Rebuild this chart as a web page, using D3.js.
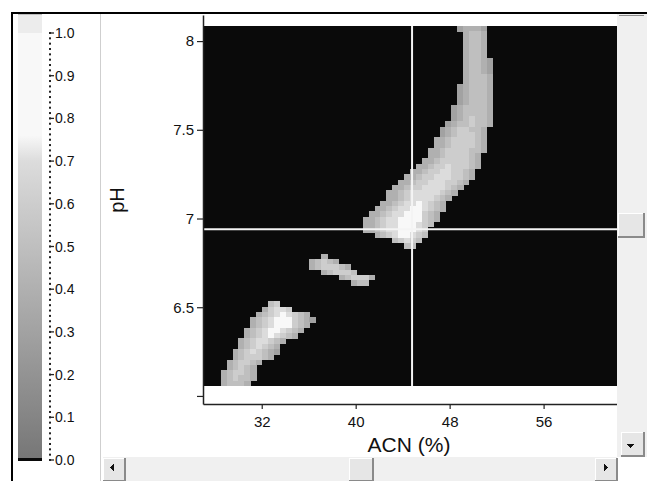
<!DOCTYPE html>
<html>
<head>
<meta charset="utf-8">
<script src="https://cdn.jsdelivr.net/npm/d3@7"></script>
<style>
  body { margin: 0; background: #fff; }
  svg { display: block; font-family: "Liberation Sans", Arial, sans-serif; }
</style>
</head>
<body>
<svg id="chart" width="647" height="481"></svg>
<script>
// axis ticks
var acnTicks = [32, 40, 48, 56];
var phTicks = [6, 6.5, 7, 7.5, 8];
var phTickLabels = ["", "6.5", "7", "7.5", "8"];
var legendTicks = [0.0, 0.1, 0.2, 0.3, 0.4, 0.5, 0.6, 0.7, 0.8, 0.9, 1.0];

// crosshair (selected point)
var crossAcn = 44.8;
var crossPh = 6.94;

// heat map cells, rows counted from the top (highest pH) down:
// [row, first column, values in tenths]  -- cells not listed are 0
var bandUpper = [
  [0, 43, "34443"],
  [1, 44, "4554"],
  [2, 44, "4554"],
  [3, 44, "4554"],
  [4, 44, "4554"],
  [5, 44, "4554"],
  [6, 44, "45543"],
  [7, 44, "45543"],
  [8, 44, "45543"],
  [9, 44, "45554"],
  [10, 44, "45554"],
  [11, 43, "345554"],
  [12, 43, "345554"],
  [13, 43, "345554"],
  [14, 43, "345554"],
  [15, 42, "3455554"],
  [16, 42, "3455554"],
  [17, 42, "3456554"],
  [18, 41, "34556554"],
  [19, 40, "34566554"],
  [20, 40, "34566654"],
  [21, 39, "445666654"],
  [22, 39, "445666654"],
  [23, 38, "4456666554"],
  [24, 38, "445666654"],
  [25, 37, "4456666654"],
  [26, 36, "44566766654"],
  [27, 35, "44566776654"],
  [28, 34, "445667776654"],
  [29, 33, "445667776654"],
  [30, 32, "445667777654"],
  [31, 31, "445677777654"],
  [32, 31, "44567777654"],
  [33, 30, "44567787654"],
  [34, 29, "445677887654"],
  [35, 28, "445677888654"],
  [36, 27, "4456778888654"],
  [37, 27, "445677888765"],
  [38, 27, "44567788876"],
  [39, 29, "456788765"],
  [40, 32, "56765"],
  [41, 34, "55"]
];
var bandMiddle = [
  [43, 20, "4"],
  [44, 18, "45654"],
  [45, 18, "4566654"],
  [46, 20, "456665"],
  [47, 23, "456664"],
  [48, 25, "455"]
];
var bandLower = [
  [52, 11, "56"],
  [53, 10, "46776"],
  [54, 9, "456787654"],
  [55, 8, "45678886543"],
  [56, 8, "4567888654"],
  [57, 7, "4567887654"],
  [58, 7, "456787654"],
  [59, 6, "45677654"],
  [60, 6, "4567654"],
  [61, 5, "45676543"],
  [62, 5, "4566654"],
  [63, 4, "456654"],
  [64, 4, "45654"],
  [65, 3, "456654"],
  [66, 3, "456554"],
  [67, 3, "45554"]
];

var nCols = 70, nRows = 68;

var svg = d3.select("#chart");

var x = d3.scaleLinear().domain([27, 62.25]).range([203, 617]);
var y = d3.scaleLinear().domain([6.056, 8.085]).range([386, 26]);

var shade = d3.scaleLinear()
  .domain([0, 0.7, 0.76, 1])
  .range(["#767676", "#dcdcdc", "#f8f8f8", "#f8f8f8"])
  .clamp(true);
function cellColor(v) { return v === 0 ? "#0a0a0a" : shade(v); }

// ---- frame and panels
svg.append("rect").attr("x", 0).attr("y", 0).attr("width", 647).attr("height", 481).attr("fill", "#fff");
svg.append("line").attr("x1", 100.5).attr("x2", 100.5).attr("y1", 14).attr("y2", 481)
  .attr("stroke", "#cfcfcf");

// ---- heat map
var colW = (x.domain()[1] - x.domain()[0]) / nCols;
var rowH = (y.domain()[1] - y.domain()[0]) / nRows;

var cells = [];
[bandUpper, bandMiddle, bandLower].forEach(function(band) {
  band.forEach(function(row) {
    row[2].split("").forEach(function(ch, i) {
      cells.push({ r: row[0], c: row[1] + i, v: +ch / 10 });
    });
  });
});

var heat = svg.append("g").attr("shape-rendering", "crispEdges");
heat.append("rect")
  .attr("x", x(x.domain()[0])).attr("y", y(y.domain()[1]))
  .attr("width", x(x.domain()[1]) - x(x.domain()[0]))
  .attr("height", y(y.domain()[0]) - y(y.domain()[1]))
  .attr("fill", cellColor(0));

heat.selectAll("rect.cell")
  .data(cells)
  .enter().append("rect")
    .attr("class", "cell")
    .attr("x", function(d) { return x(x.domain()[0] + d.c * colW); })
    .attr("y", function(d) { return y(y.domain()[1] - d.r * rowH); })
    .attr("width", function(d) { return x(x.domain()[0] + (d.c + 1) * colW) - x(x.domain()[0] + d.c * colW) + 0.3; })
    .attr("height", function(d) { return y(y.domain()[1] - (d.r + 1) * rowH) - y(y.domain()[1] - d.r * rowH) + 0.3; })
    .attr("fill", function(d) { return cellColor(d.v); });

// crosshair
svg.append("line")
  .attr("x1", x(crossAcn)).attr("x2", x(crossAcn))
  .attr("y1", y.range()[1]).attr("y2", y.range()[0])
  .attr("stroke", "#f4f4f4").attr("stroke-width", 2);
svg.append("line")
  .attr("x1", x.range()[0]).attr("x2", x.range()[1])
  .attr("y1", y(crossPh)).attr("y2", y(crossPh))
  .attr("stroke", "#f4f4f4").attr("stroke-width", 2);

// ---- axes
var yAxisScale = d3.scaleLinear().domain([y.invert(404), y.invert(15)]).range([404, 15]);
var gy = svg.append("g")
  .attr("transform", "translate(203,0)")
  .call(d3.axisLeft(yAxisScale)
    .tickValues(phTicks)
    .tickFormat(function(d, i) { return phTickLabels[i]; })
    .tickSize(6).tickSizeOuter(0).tickPadding(3));

var gx = svg.append("g")
  .attr("transform", "translate(0,404)")
  .call(d3.axisBottom(x)
    .tickValues(acnTicks)
    .tickFormat(d3.format("d"))
    .tickSize(5).tickSizeOuter(0).tickPadding(7));

[gx, gy].forEach(function(g) {
  g.select(".domain").attr("stroke", "#222").attr("stroke-width", 1.5);
  g.selectAll(".tick line").attr("stroke", "#222").attr("stroke-width", 1.2);
  g.selectAll(".tick text").attr("font-size", 15).attr("fill", "#111")
    .attr("font-family", "Liberation Sans, Arial, sans-serif");
});

svg.append("text")
  .attr("x", 409).attr("y", 452)
  .attr("text-anchor", "middle")
  .attr("font-size", 21).attr("fill", "#111")
  .text("ACN (%)");

svg.append("text")
  .attr("transform", "translate(124,200) rotate(-90)")
  .attr("text-anchor", "middle")
  .attr("font-size", 20).attr("fill", "#111")
  .text("pH");

// ---- colour legend
var ly = d3.scaleLinear().domain([0, 1]).range([460, 33]);
var grad = svg.append("defs").append("linearGradient")
  .attr("id", "legendGrad")
  .attr("gradientUnits", "userSpaceOnUse")
  .attr("x1", 0).attr("x2", 0).attr("y1", ly(0)).attr("y2", ly(1));
shade.domain().concat(legendTicks).sort(d3.ascending).forEach(function(v) {
  grad.append("stop").attr("offset", v).attr("stop-color", shade(v));
});

svg.append("rect").attr("x", 18).attr("y", 15).attr("width", 24).attr("height", ly(1) - 15)
  .attr("fill", "#ececec");
svg.append("line").attr("x1", 18).attr("x2", 42).attr("y1", 14.5).attr("y2", 14.5)
  .attr("stroke", "#bdbdbd");
svg.append("rect").attr("x", 18).attr("y", ly(1)).attr("width", 24).attr("height", ly(0) - ly(1))
  .attr("fill", "url(#legendGrad)");
svg.append("rect").attr("x", 18).attr("y", ly(0) - 2).attr("width", 24).attr("height", 3)
  .attr("fill", cellColor(0));

var minor = d3.range(0, 1.0001, 0.0125);
svg.append("g").selectAll("rect")
  .data(minor)
  .enter().append("rect")
    .attr("x", 49).attr("y", function(d) { return ly(d) - 1; })
    .attr("width", 2).attr("height", 2)
    .attr("fill", "#222");

var lt = svg.append("g").selectAll("g")
  .data(legendTicks)
  .enter().append("g")
    .attr("transform", function(d) { return "translate(0," + ly(d) + ")"; });
lt.append("line").attr("x1", 49).attr("x2", 54).attr("stroke", "#222").attr("stroke-width", 1.3);
lt.append("text")
  .attr("x", 55).attr("dy", "0.36em")
  .attr("font-size", 14).attr("fill", "#111")
  .text(function(d) { return d3.format(".1f")(d); });

// ---- scroll bars
var sb = svg.append("g").attr("shape-rendering", "crispEdges");
// vertical
sb.append("rect").attr("x", 617).attr("y", 14).attr("width", 30).attr("height", 443).attr("fill", "#f0f0f0");
sb.append("line").attr("x1", 619).attr("x2", 644).attr("y1", 15.5).attr("y2", 15.5).attr("stroke", "#8a8a8a").attr("stroke-width", 1.5);
function button(g, bx, byy, w, h) {
  g.append("rect").attr("x", bx).attr("y", byy).attr("width", w).attr("height", h).attr("fill", "#e6e6e6");
  g.append("path").attr("d", "M" + bx + "," + (byy + h) + "V" + byy + "H" + (bx + w))
    .attr("fill", "none").attr("stroke", "#ffffff");
  g.append("path").attr("d", "M" + (bx + w) + "," + byy + "V" + (byy + h) + "H" + bx)
    .attr("fill", "none").attr("stroke", "#8a8a8a").attr("stroke-width", 1.5);
}
button(sb, 618, 213, 26, 24);
button(sb, 621, 432, 23, 24);
sb.append("path").attr("d", "M627,444 L634,444 L630.5,448 Z").attr("fill", "#111");
// horizontal
sb.append("rect").attr("x", 103).attr("y", 457).attr("width", 514).attr("height", 24).attr("fill", "#f0f0f0");
button(sb, 103, 458, 22, 23);
sb.append("path").attr("d", "M110,467.5 L114,463.5 L114,471.5 Z").attr("fill", "#111");
button(sb, 349, 458, 24, 23);
button(sb, 595, 458, 22, 23);
sb.append("path").attr("d", "M608,467.5 L604,463.5 L604,471.5 Z").attr("fill", "#111");

// outer frame
svg.append("rect").attr("x", 11).attr("y", 12).attr("width", 636).attr("height", 2).attr("fill", "#000");
svg.append("rect").attr("x", 11).attr("y", 12).attr("width", 2).attr("height", 469).attr("fill", "#000");
</script>
</body>
</html>
